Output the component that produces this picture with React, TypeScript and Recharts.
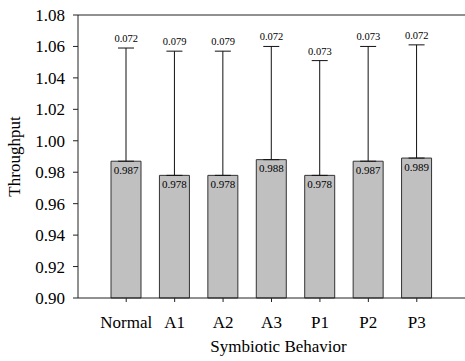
import { XAxis, YAxis, ErrorBar, LabelList, Line, ReferenceLine, ComposedChart, Bar } from 'recharts'

const CATEGORIES = ['Normal', 'A1', 'A2', 'A3', 'P1', 'P2', 'P3']
const MEANS = [0.987, 0.978, 0.978, 0.988, 0.978, 0.987, 0.989]
const STDS = [0.072, 0.079, 0.079, 0.072, 0.073, 0.073, 0.072]
const Y_TICKS = [0.9, 0.92, 0.94, 0.96, 0.98, 1.0, 1.02, 1.04, 1.06, 1.08]

const FONT = '"Liberation Serif", "Times New Roman", serif'
const AXIS = '#222'

const data = CATEGORIES.map((name, i) => ({
  name,
  mean: MEANS[i],
  std: STDS[i],
  err: [0, STDS[i]],
  top: MEANS[i] + STDS[i],
}))

function XTitle({ viewBox }: any) {
  const { x, y, width } = viewBox
  return (
    <text x={x + width / 2 + 7} y={y + 54} textAnchor="middle" fontFamily={FONT} fontSize={17} fill="#000">
      Symbiotic Behavior
    </text>
  )
}

function YTitle({ viewBox }: any) {
  const { y, height } = viewBox
  return (
    <text
      x={20}
      y={y + height / 2}
      transform={`rotate(-90, 20, ${y + height / 2})`}
      textAnchor="middle"
      fontFamily={FONT}
      fontSize={17}
      fill="#000"
    >
      Throughput
    </text>
  )
}

export default function App() {
  return (
    <div style={{ position: 'absolute', left: 0, top: 0, background: '#fff', fontFamily: FONT }}>
      <ComposedChart width={465} height={361} data={data} margin={{ top: 15, right: 0, left: 0, bottom: 0 }}>
        <XAxis
          dataKey="name"
          padding={{ left: 24, right: 24 }}
          height={63}
          tickSize={4}
          tickMargin={14}
          stroke={AXIS}
          tick={{ fontSize: 17, fill: '#000' }}
          label={<XTitle />}
        />
        <YAxis
          type="number"
          domain={[0.9, 1.08]}
          ticks={Y_TICKS}
          interval={0}
          width={78}
          tickSize={5}
          tickMargin={8}
          stroke={AXIS}
          tickFormatter={(v: number) => v.toFixed(2)}
          tick={{ fontSize: 17, fill: '#000' }}
          label={<YTitle />}
        />
        <ReferenceLine y={1.08} stroke={AXIS} strokeWidth={1} />
        <Bar dataKey="mean" barSize={30} fill="#c0c0c0" stroke="#333" strokeWidth={1} isAnimationActive={false}>
          <ErrorBar dataKey="err" direction="y" width={8} stroke="#111" strokeWidth={1} />
          <LabelList
            dataKey="mean"
            position="insideTop"
            offset={5}
            style={{ fontSize: 11, fill: '#000' }}
            formatter={(v: number) => v.toFixed(3)}
          />
        </Bar>
        <Line dataKey="top" stroke="none" dot={false} activeDot={false} isAnimationActive={false}>
          <LabelList
            dataKey="std"
            position="top"
            offset={6}
            style={{ fontSize: 10.5, fill: '#000' }}
            formatter={(v: number) => v.toFixed(3)}
          />
        </Line>
      </ComposedChart>
    </div>
  )
}
